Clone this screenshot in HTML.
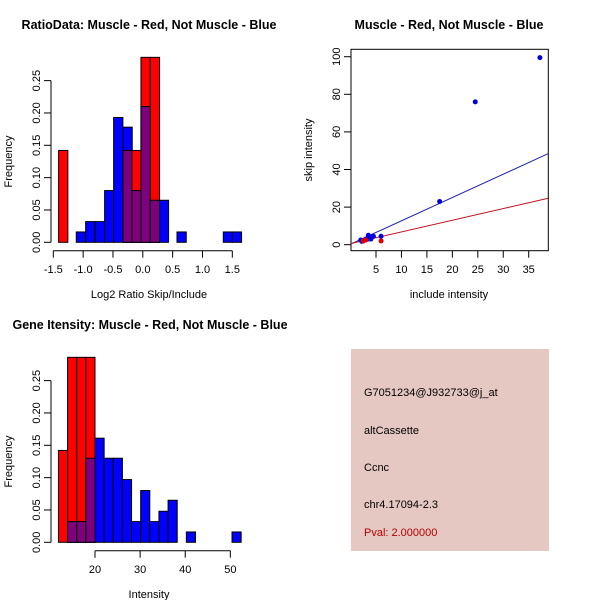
<!DOCTYPE html>
<html><head><meta charset="utf-8"><style>
body{margin:0;background:#fff}
svg{display:block;font-family:"Liberation Sans",sans-serif}
</style></head><body>
<svg id="s" width="600" height="600" viewBox="0 0 600 600">
<rect width="600" height="600" fill="#fff"/>
<text x="149" y="29" text-anchor="middle" font-size="12.5" font-weight="bold">RatioData: Muscle - Red, Not Muscle - Blue</text>
<text x="449" y="29" text-anchor="middle" font-size="12.5" font-weight="bold">Muscle - Red, Not Muscle - Blue</text>
<text x="150" y="329" text-anchor="middle" font-size="12.5" font-weight="bold">Gene Itensity: Muscle - Red, Not Muscle - Blue</text>
<g id="p1"></g>
<g id="p2"></g>
<g id="p3"></g>
<g>
<rect x="351" y="349" width="198" height="202" fill="#e6c8c2"/>
<text x="364" y="396" font-size="11">G7051234@J932733@j_at</text>
<text x="364" y="434" font-size="11">altCassette</text>
<text x="364" y="471" font-size="11">Ccnc</text>
<text x="364" y="508" font-size="11">chr4.17094-2.3</text>
<text x="364" y="536" font-size="11" fill="#b00000">Pval: 2.000000</text>
</g>
</svg>
<script>
// Ratio histogram data
const ratioEdges = [-1.411,-1.254,-1.115,-0.958,-0.796,-0.640,-0.489,-0.332,-0.182,-0.031,0.126,0.277,0.433,0.573,0.729,1.349,1.5,1.651];
const ratioBlueLeft = [-1.115,-0.958,-0.796,-0.640,-0.489,-0.332,-0.182,-0.031,0.126,0.277,0.573,1.349,1.5];
const ratioBlueFreq = [0.016,0.032,0.032,0.080,0.193,0.178,0.080,0.210,0.065,0.065,0.016,0.016,0.016];
const ratioRedLeft = [-1.411,-0.332,-0.182,-0.031,0.126];
const ratioRedFreq = [0.142,0.142,0.142,0.286,0.286];
const ratioBinWidth = 0.155;
const ratioXTicks = [-1.5,-1.0,-0.5,0.0,0.5,1.0,1.5];
const freqTicks = [0,0.05,0.10,0.15,0.20,0.25];
// Intensity histogram data
const intStart = 11.9, intBinWidth = 2.025;
const intBlueFreq = [0,0.032,0.032,0.130,0.161,0.130,0.130,0.097,0.032,0.080,0.032,0.048,0.065,0,0.016,0,0,0,0,0.016];
const intRedFreq = [0.142,0.286,0.286,0.286];
const intXTicks = [20,30,40,50];
// Scatter data
const blueX = [37.2,24.5,17.5,6,3.5,4,4.5,2,2.5,3,3.5,2.2,3,4];
const blueY = [99.5,76,23,4.5,5,4,4.5,2.5,2,3,3,1.8,2.5,3];
const redX = [6,3,2.5];
const redY = [2,2.5,2];
const blueFit = [0.3,1.24];
const redFit = [0.6,0.62];
const scXTicks = [5,10,15,20,25,30,35];
const scYTicks = [0,20,40,60,80,100];

const NS="http://www.w3.org/2000/svg";
function mk(parent,tag,attrs,text){const e=document.createElementNS(NS,tag);for(const k in attrs)e.setAttribute(k,attrs[k]);if(text!==undefined)e.textContent=text;parent.appendChild(e);return e;}
function fmt(v,d){return v.toFixed(d);}

function yAxisFreq(g,y0){
  const sy=v=>y0-v*646.7;
  mk(g,'line',{x1:51,x2:51,y1:sy(0),y2:sy(0.25),stroke:'#000'});
  freqTicks.forEach(t=>{
    const l=mk(g,'line',{x1:44,x2:51,y1:sy(t),y2:sy(t),stroke:'#000'});
    
    
    const tx=mk(g,'text',{x:0,y:0,'font-size':11,'text-anchor':'middle',transform:`translate(40,${sy(t)}) rotate(-90)`},t.toFixed(2));
    
    
  });
  const yl=mk(g,'text',{x:0,y:0,'font-size':11,'text-anchor':'middle',transform:`translate(12,${sy(0.125)}) rotate(-90)`},'Frequency');
  
  
  return sy;
}
function bar(g,x1,x2,sy,f,fill,name){
  const r=mk(g,'rect',{x:x1,y:sy(f),width:x2-x1,height:sy(0)-sy(f),fill:fill,stroke:'#000','stroke-width':1});
  
  
}
function drawHist(g,y0,sx,blueL,blueF,redL,redF,w){
  const sy=yAxisFreq(g,y0);
  blueL.forEach((l,i)=>{if(blueF[i]>0)bar(g,sx(l),sx(l+w),sy,blueF[i],'#0000ff','blue-bar');});
  redL.forEach((l,i)=>{bar(g,sx(l),sx(l+w),sy,redF[i],'#ff0000','red-bar');
    const j=blueL.findIndex(b=>Math.abs(b-l)<1e-6);
    if(j>=0&&blueF[j]>0){const m=Math.min(blueF[j],redF[i]);bar(g,sx(l),sx(l+w),sy,m,'#7f007f','overlap-bar');}
  });
  return sy;
}
// plot 1
(function(){
  const g=document.getElementById('p1');
  const sx=v=>53.3+(v+1.5)*59.67;
  drawHist(g,242.3,sx,ratioBlueLeft,ratioBlueFreq,ratioRedLeft,ratioRedFreq,ratioBinWidth);
  mk(g,'line',{x1:sx(-1.5),x2:sx(1.5),y1:250.7,y2:250.7,stroke:'#000'});
  ratioXTicks.forEach(t=>{
    const l=mk(g,'line',{x1:sx(t),x2:sx(t),y1:250.7,y2:257.7,stroke:'#000'});
    
    
    const tx=mk(g,'text',{x:sx(t),y:273,'font-size':11,'text-anchor':'middle'},t.toFixed(1));
    
    
  });
  const xl=mk(g,'text',{x:149,y:298,'font-size':11,'text-anchor':'middle'},'Log2 Ratio Skip/Include');
  
  
})();
// plot 3
(function(){
  const g=document.getElementById('p3');
  const sx=v=>95+(v-20)*4.511;
  const left=intBlueFreq.map((_,i)=>intStart+i*intBinWidth);
  const rleft=intRedFreq.map((_,i)=>intStart+i*intBinWidth);
  drawHist(g,542.3,sx,left,intBlueFreq,rleft,intRedFreq,intBinWidth);
  mk(g,'line',{x1:sx(20),x2:sx(50),y1:550.7,y2:550.7,stroke:'#000'});
  intXTicks.forEach(t=>{
    const l=mk(g,'line',{x1:sx(t),x2:sx(t),y1:550.7,y2:557.7,stroke:'#000'});
    
    
    const tx=mk(g,'text',{x:sx(t),y:573,'font-size':11,'text-anchor':'middle'},String(t));
    
    
  });
  const xl=mk(g,'text',{x:149,y:598,'font-size':11,'text-anchor':'middle'},'Intensity');
  
  
})();
// scatter
(function(){
  const g=document.getElementById('p2');
  const sx=v=>376+(v-5)*5.09;
  const sy=v=>244.7-v*1.88;
  const x0=0.09,x1=38.85;
  const box=mk(g,'rect',{x:351,y:49.3,width:197.3,height:201.4,fill:'none',stroke:'#000'});
  
  
  const cp=mk(g,'clipPath',{id:'c2'});mk(cp,'rect',{x:351,y:49.3,width:197.3,height:201.4});
  scXTicks.forEach(t=>{
    const l=mk(g,'line',{x1:sx(t),x2:sx(t),y1:250.7,y2:257.7,stroke:'#000'});
    
    
    const tx=mk(g,'text',{x:sx(t),y:273,'font-size':11,'text-anchor':'middle'},String(t));
    
    
  });
  scYTicks.forEach(t=>{
    const l=mk(g,'line',{x1:344,x2:351,y1:sy(t),y2:sy(t),stroke:'#000'});
    
    
    const tx=mk(g,'text',{x:0,y:0,'font-size':11,'text-anchor':'middle',transform:`translate(340,${sy(t)}) rotate(-90)`},String(t));
    
    
  });
  const xl=mk(g,'text',{x:449,y:298,'font-size':11,'text-anchor':'middle'},'include intensity');
  
  
  const yl=mk(g,'text',{x:0,y:0,'font-size':11,'text-anchor':'middle',transform:'translate(312,150) rotate(-90)'},'skip intensity');
  
  
  const bl=mk(g,'line',{x1:sx(x0),x2:sx(x1),y1:sy(blueFit[0]+blueFit[1]*x0),y2:sy(blueFit[0]+blueFit[1]*x1),stroke:'#2020b0','clip-path':'url(#c2)'});
  
  
  const rl=mk(g,'line',{x1:sx(x0),x2:sx(x1),y1:sy(redFit[0]+redFit[1]*x0),y2:sy(redFit[0]+redFit[1]*x1),stroke:'#c01020','clip-path':'url(#c2)'});
  
  
  blueX.forEach((x,i)=>{
    const c=mk(g,'circle',{cx:sx(x),cy:sy(blueY[i]),r:2.5,fill:'#0000dd'});
    
    
  });
  redX.forEach((x,i)=>{
    const c=mk(g,'circle',{cx:sx(x),cy:sy(redY[i]),r:2.5,fill:'#dd0000'});
    
    
  });
})();
</script>
</body></html>
